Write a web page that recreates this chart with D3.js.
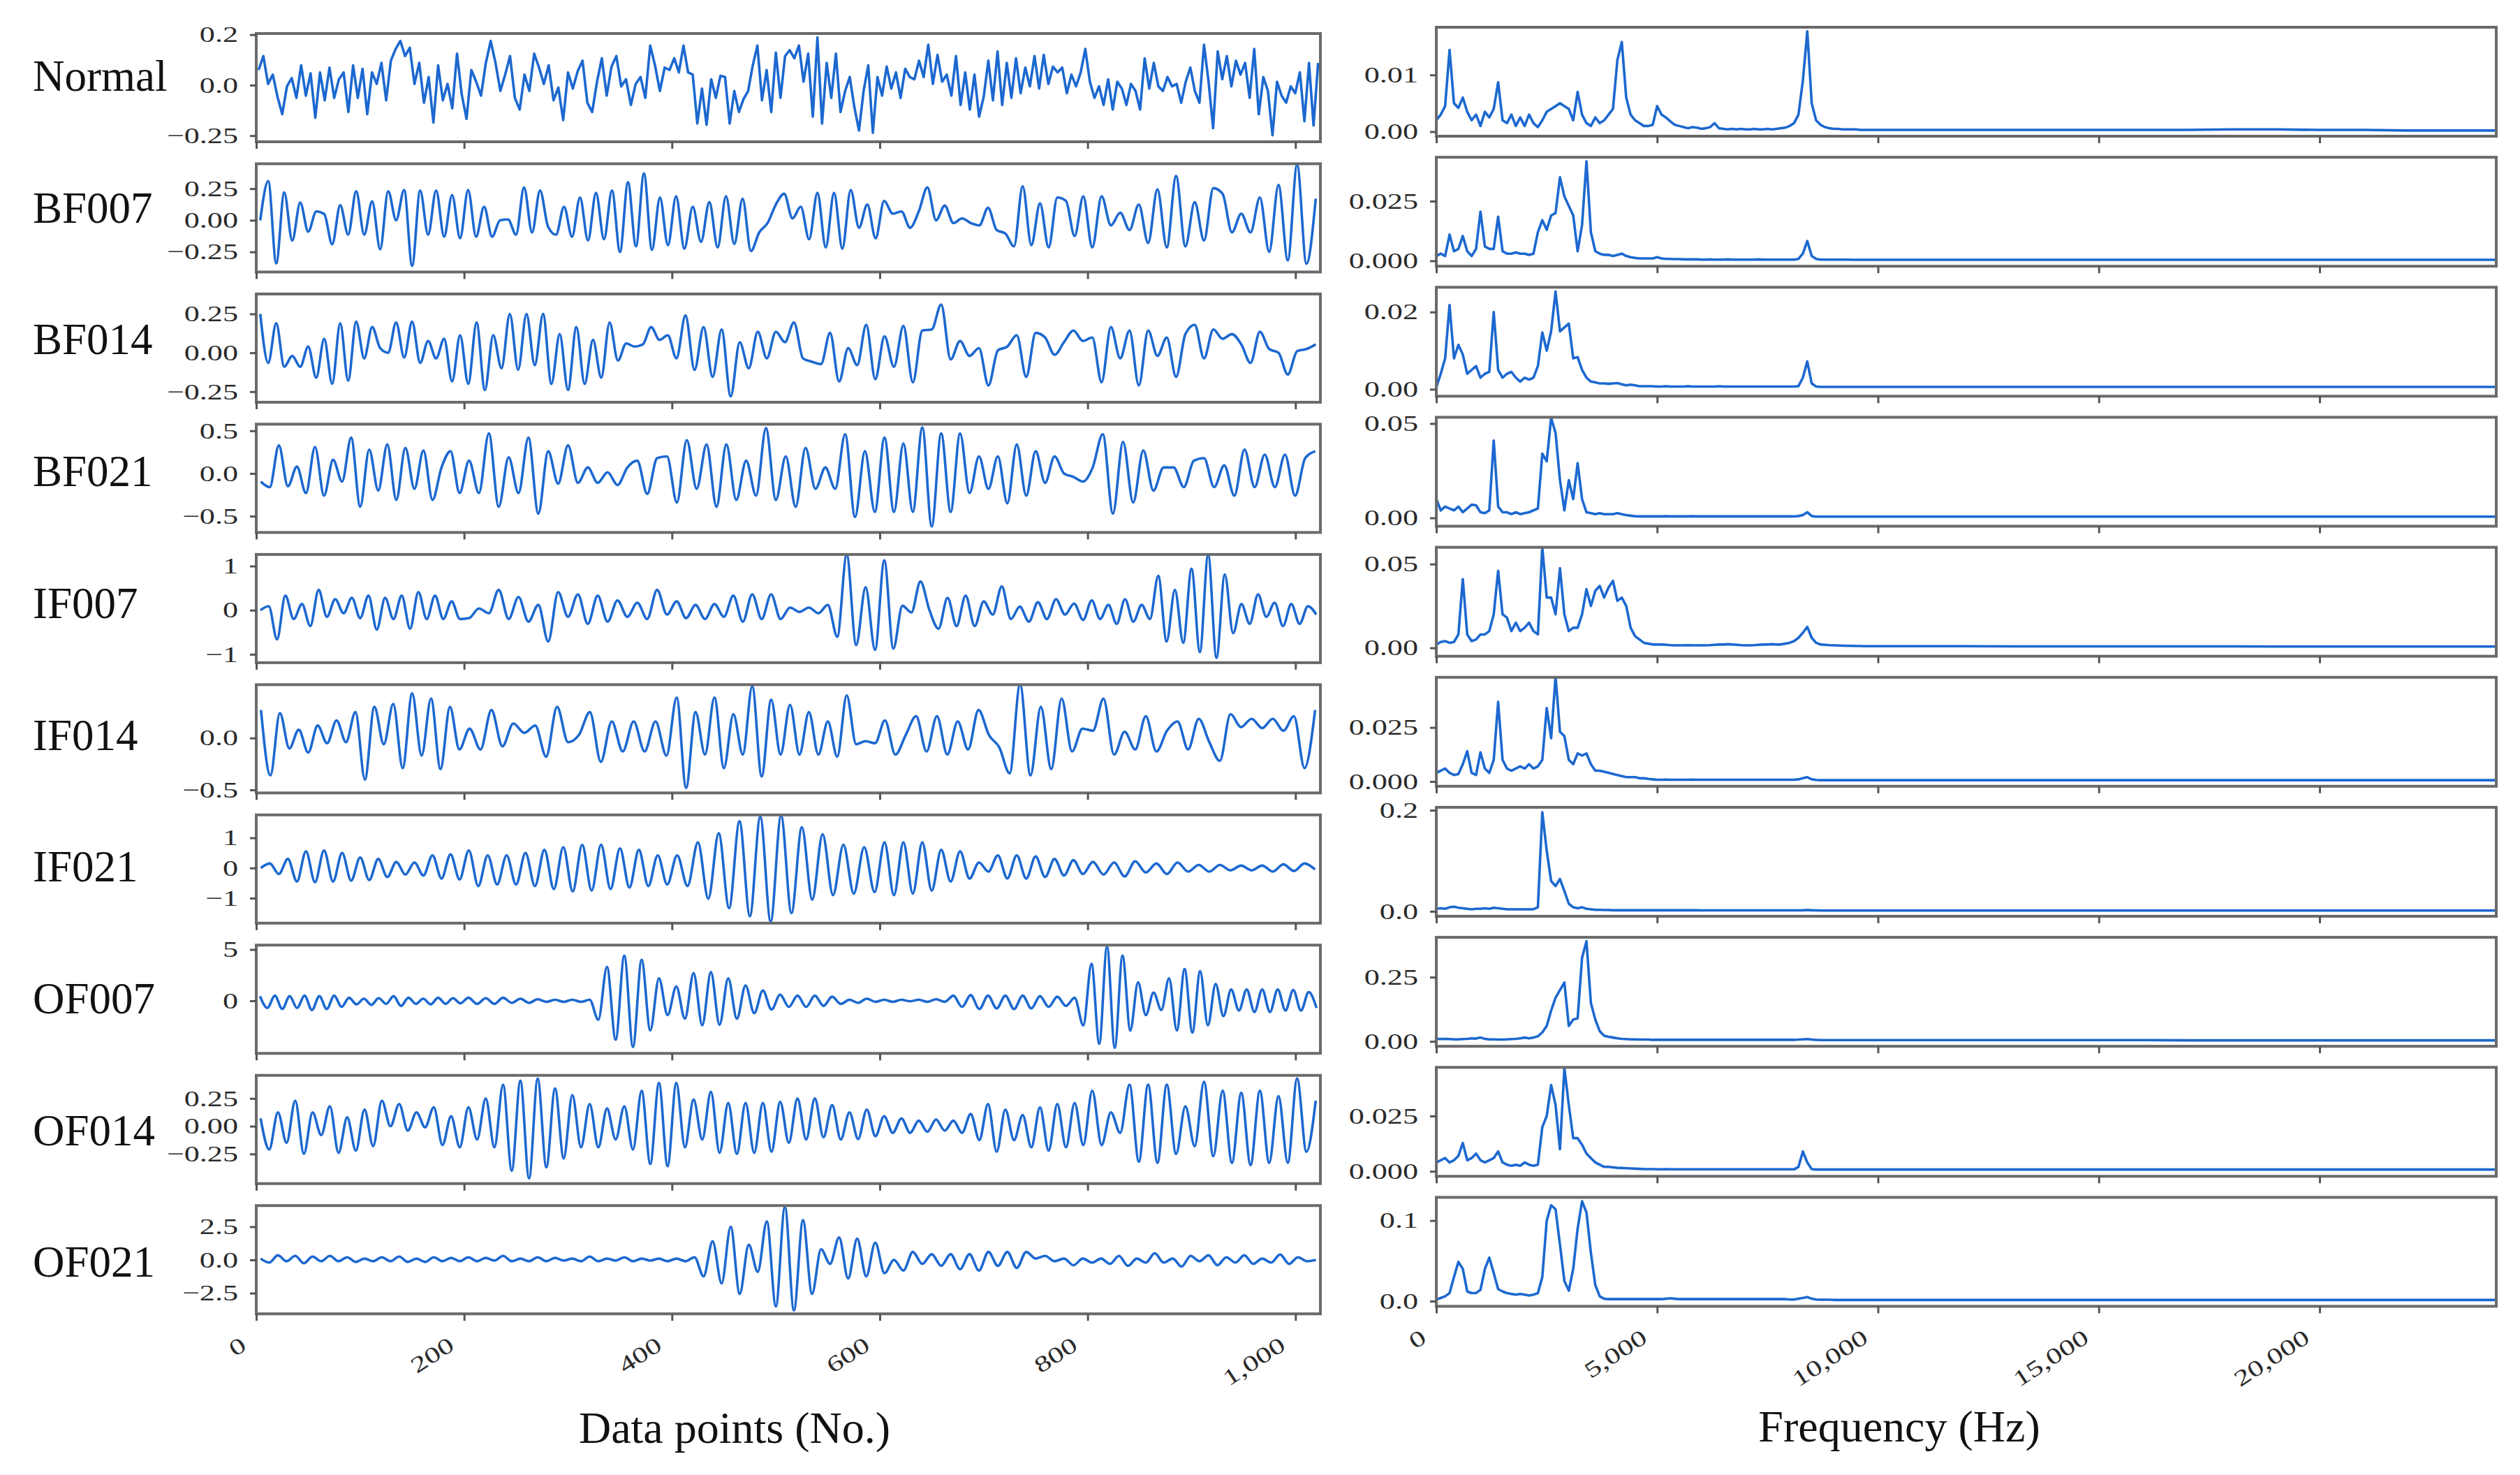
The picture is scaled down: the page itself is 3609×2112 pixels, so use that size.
<!DOCTYPE html>
<html><head><meta charset="utf-8">
<script src="https://cdn.jsdelivr.net/npm/d3@7"></script>
<style>html,body{margin:0;padding:0;background:#fff;}svg{display:block;}</style>
</head><body>
<svg id="chart" width="3609" height="2112"></svg>
<script>
// ---------------- DATA ----------------
const rowLabels = ["Normal","BF007","BF014","BF021","IF007","IF014","IF021","OF007","OF014","OF021"];

// time-domain signals: successive extrema, grouped by 200-sample segment
const segBounds = [0,200,400,600,800,1024];
const sigNormal = [
 [0.075,0.144,0.006,0.052,-0.058,-0.144,-0.006,0.035,-0.063,0.098,-0.052,0.058,-0.161,0.063,-0.075,0.087,-0.063,0.029,0.063,-0.133,0.098,-0.063,0.081,-0.144,0.063,0.006,0.11,-0.075,0.121,0.179,0.219,0.144,0.185,0.006,0.11,-0.087,0.04,-0.185,0.098,-0.075,0.006,-0.115,0.156,-0.046],
 [-0.167,0.075,0.017,-0.052,0.11,0.219,0.11,-0.029,0.052,0.144,-0.063,-0.121,0.052,-0.029,0.156,0.087,0.006,0.098,-0.075,-0.012,-0.173,0.063,-0.017,0.069,0.121,-0.087,-0.133,0.017,0.133,-0.052,0.092,0.144,-0.006,0.029,-0.098,0.006,0.04,-0.063,0.196,0.098,-0.029,0.087,0.075],
 [0.133,0.063,0.196,0.063,0.052,-0.19,-0.017,-0.196,0.029,-0.063,0.046,0.04,-0.19,-0.029,-0.133,-0.069,-0.029,0.098,0.196,-0.075,0.075,-0.133,0.161,-0.063,0.144,0.173,0.133,0.196,0.017,0.156,-0.156,0.236,-0.19,0.11,-0.063,0.156,-0.133,-0.029,0.04,-0.109,-0.225,-0.029,0.098,-0.236,0.04],
 [-0.052,0.092,-0.017,0.063,-0.063,0.081,0.04,0.029,0.121,0.04,0.2,0.006,0.15,0.017,0.052,-0.052,0.144,-0.098,0.063,-0.121,0.052,-0.156,-0.058,0.121,-0.075,0.167,-0.098,0.11,-0.063,0.133,-0.04,0.087,-0.006,0.144,-0.017,0.15,0.006,0.092,0.063,0.087,-0.04,0.052,-0.006,0.063,0.179],
 [0.017,-0.063,-0.006,-0.098,0.029,-0.121,0.017,-0.017,-0.098,0.006,-0.029,-0.121,0.133,-0.017,0.11,-0.006,-0.029,0.04,-0.006,0.006,-0.087,0.017,0.087,-0.029,-0.087,0.2,0.017,-0.213,0.167,0.029,0.144,-0.006,0.121,0.052,0.11,-0.063,0.179,-0.144,0.04,-0.029,-0.248,0.017,-0.052,-0.087,-0.006,-0.04,0.063,-0.179,0.11,-0.2,0.11]
];
const sigBF007 = [
 [0.0,0.31,-0.34,0.22,-0.16,0.14,-0.09,0.07,0.05,-0.19,0.12,-0.114,0.23,-0.114,0.15,-0.23,0.23,0.0,0.24,-0.36,0.236,-0.114,0.236,-0.13,0.2,-0.142],
 [0.24,-0.13,0.107,-0.13,0.0,0.006,-0.114,0.26,-0.096,0.236,-0.05,-0.114,0.107,-0.13,0.18,-0.16,0.217,-0.15,0.236,-0.25,0.3,-0.206,0.37,-0.234,0.18,-0.197],
 [0.19,-0.225,0.107,-0.17,0.144,-0.215,0.19,-0.188,0.171,-0.243,-0.096,-0.022,0.125,0.21,0.015,0.107,-0.15,0.217,-0.215,0.217,-0.225,0.24,-0.059,0.125,-0.142],
 [0.153,0.052,0.07,-0.059,0.07,0.26,0.0,0.116,-0.022,0.015,-0.022,-0.04,0.098,-0.077,-0.105,-0.206,0.27,-0.197,0.134,-0.215,0.18,0.153,-0.124,0.19],
 [-0.215,0.19,-0.04,0.06,-0.077,0.125,-0.18,0.245,-0.215,0.35,-0.206,0.144,-0.16,0.254,0.208,-0.096,0.052,-0.096,0.18,-0.25,0.28,-0.317,0.44,-0.344,0.171]
];
const sigBF014 = [
 [0.25,-0.065,0.19,-0.09,-0.02,-0.09,0.04,-0.16,0.09,-0.2,0.19,-0.18,0.2,-0.036,0.165,0.03,0.0,0.195,-0.03,0.2,-0.065,0.076,-0.036,0.09,-0.185,0.113],
 [-0.2,0.195,-0.24,0.113,-0.1,0.25,-0.11,0.25,-0.08,0.25,-0.2,0.12,-0.24,0.165,-0.2,0.083,-0.16,0.195,-0.05,0.06,0.04,0.054,0.165,0.083,0.113],
 [-0.036,0.24,-0.11,0.165,-0.155,0.15,-0.28,0.068,-0.1,0.135,-0.036,0.135,0.068,0.195,-0.036,-0.058,-0.073,0.128,-0.185,0.03,-0.08,0.18,-0.17],
 [0.106,-0.09,0.173,-0.19,0.143,0.15,0.31,-0.043,0.076,-0.02,0.03,-0.21,0.016,0.04,0.113,-0.155,0.128,0.098,-0.013,0.068,0.143,0.076],
 [0.098,-0.19,0.165,-0.036,0.143,-0.21,0.143,-0.02,0.098,-0.155,0.12,0.18,-0.036,0.15,0.09,0.12,0.054,-0.065,0.135,0.024,0.0,-0.14,0.01,0.024,0.054]
];
const sigBF021 = [
 [-0.095,-0.16,0.33,-0.15,0.08,-0.23,0.31,-0.26,0.16,-0.095,0.42,-0.39,0.28,-0.2,0.34,-0.31,0.3,-0.18,0.27,-0.31,0.07,0.26,-0.23],
 [0.15,-0.23,0.47,-0.39,0.19,-0.23,0.42,-0.47,0.26,-0.12,0.33,-0.11,0.07,-0.11,0.014,-0.135,0.07,0.15,-0.24,0.18,0.2],
 [-0.34,0.39,-0.18,0.34,-0.39,0.34,-0.31,0.15,-0.26,0.53,-0.31,0.2,-0.39,0.3,-0.18,0.07,-0.18,0.46,-0.51,0.26,-0.45],
 [0.42,-0.45,0.35,-0.45,0.54,-0.62,0.47,-0.45,0.47,-0.23,0.2,-0.18,0.2,-0.35,0.34,-0.26,0.26,-0.11,0.2,0.0,-0.04,-0.095],
 [0.07,0.46,-0.47,0.37,-0.34,0.27,-0.2,0.07,0.07,-0.16,0.15,0.18,-0.16,0.095,-0.26,0.28,-0.16,0.22,-0.16,0.22,-0.26,0.18,0.26]
];
const sigIF007 = [
 [0.0,0.09,-0.66,0.33,-0.2,0.14,-0.36,0.46,-0.15,0.25,-0.07,0.28,-0.18,0.33,-0.44,0.28,-0.2,0.33,-0.42,0.41,-0.2,0.33,-0.2,0.2,-0.2],
 [-0.18,0.04,-0.07,0.46,-0.2,0.3,-0.26,0.12,-0.71,0.41,-0.15,0.36,-0.31,0.33,-0.26,0.22,-0.15,0.17,-0.2,0.46,-0.1],
 [0.2,-0.18,0.12,-0.2,0.14,-0.15,0.33,-0.26,0.36,-0.2,0.36,-0.2,0.06,-0.04,0.06,-0.07,0.12,-0.6,1.26,-0.79,0.52,-0.9],
 [1.13,-0.87,0.1,-0.05,0.65,0.0,-0.42,0.28,-0.36,0.33,-0.36,0.2,-0.1,0.54,-0.2,0.08,-0.26,0.18,-0.2,0.25,-0.1,0.15,-0.22],
 [0.22,-0.2,0.12,-0.31,0.25,-0.26,0.12,-0.2,0.78,-0.71,0.46,-0.74,0.94,-0.95,1.26,-1.08,0.81,-0.52,0.14,-0.31,0.36,-0.15,0.17,-0.36,0.14,-0.31,0.09,-0.1]
];
const sigIF014 = [
 [0.27,-0.36,0.24,-0.1,0.08,-0.14,0.12,-0.05,0.17,-0.04,0.25,-0.4,0.3,-0.06,0.33,-0.29,0.43,-0.17,0.38,-0.3,0.3,-0.11],
 [0.09,-0.11,0.27,-0.08,0.14,0.05,0.12,-0.18,0.3,-0.04,0.03,0.25,-0.23,0.16,-0.13,0.16,-0.13,0.16,-0.17],
 [0.39,-0.48,0.25,-0.16,0.39,-0.29,0.23,-0.16,0.5,-0.37,0.37,-0.16,0.32,-0.16,0.25,-0.16,0.16,-0.18,0.41,-0.06,-0.03,-0.05],
 [0.17,-0.16,0.03,0.21,-0.13,0.21,-0.16,0.16,-0.11,0.27,0.03,-0.09,-0.34,0.52,-0.36,0.3,-0.3,0.38,-0.13,0.09],
 [0.07,0.38,-0.16,0.06,-0.11,0.21,-0.13,0.07,0.16,-0.11,0.185,-0.04,-0.22,0.23,0.105,0.185,0.095,0.185,0.07,0.21,-0.29,0.27]
];
const sigIF021 = [
 [0.0,0.15,-0.2,0.3,-0.45,0.55,-0.47,0.58,-0.45,0.5,-0.42,0.35,-0.4,0.3,-0.3,0.2,-0.22,0.18,-0.25,0.42,-0.35,0.45,-0.38],
 [0.58,-0.6,0.42,-0.55,0.42,-0.55,0.5,-0.6,0.6,-0.7,0.69,-0.78,0.77,-0.75,0.77,-0.7,0.65,-0.65,0.6,-0.6,0.42,-0.55],
 [0.42,-0.6,0.85,-1.02,1.15,-1.33,1.55,-1.6,1.7,-1.78,1.74,-1.5,1.35,-1.05,1.12,-0.9,0.77,-0.85,0.69,-0.8],
 [0.85,-0.9,0.85,-0.85,0.85,-0.75,0.6,-0.45,0.55,-0.35,0.18,-0.12,0.42,-0.35,0.42,-0.35,0.38,-0.3,0.3,-0.25,0.26,-0.2],
 [0.2,-0.22,0.18,-0.28,0.22,-0.15,0.15,-0.2,0.18,-0.12,0.1,-0.12,0.1,-0.08,0.08,-0.08,0.08,-0.12,0.12,-0.1,0.15,-0.05]
];
const sigOF007 = [
 [0.45,-0.7,0.5,-0.8,0.45,-0.7,0.5,-0.9,0.45,-0.8,0.5,-0.6,0.3,-0.35,0.2,-0.4,0.25,-0.3,0.45,-0.5,0.3,-0.3,0.2,-0.35,0.3,-0.3,0.25,-0.25],
 [0.3,-0.3,0.25,-0.3,0.3,-0.2,0.2,-0.2,0.15,-0.1,0.1,-0.1,0.1,-0.1,0.1,-1.85,3.3,-3.8,4.4,-4.5,4.0,-2.9,2.2,-1.4],
 [1.4,-1.75,2.7,-2.4,2.8,-2.35,2.2,-1.75,1.5,-1.2,1.0,-0.85,0.6,-0.6,0.5,-0.6,0.5,-0.5,0.4,-0.3,0.1,-0.2,0.2,-0.1],
 [0.1,-0.1,0.1,-0.05,0.1,-0.1,0.15,-0.1,0.5,-0.6,0.55,-0.8,0.5,-0.75,0.5,-0.8,0.5,-0.75,0.45,-0.6,0.4,-0.5,0.3,-2.4],
 [3.6,-4.2,5.3,-4.6,4.4,-2.9,1.8,-1.4,0.8,-0.9,2.2,-2.9,3.1,-3.1,2.9,-2.4,1.65,-1.5,1.1,-0.95,1.1,-1.1,1.1,-1.1,1.1,-0.95,1.05,-0.95,0.85,-0.7]
];
const sigOF014 = [
 [0.07,-0.21,0.125,-0.15,0.23,-0.25,0.125,-0.08,0.18,-0.24,0.08,-0.22,0.15,-0.18,0.23,0.0,0.2,-0.04,0.125,-0.01,0.17,-0.17,0.09,-0.19],
 [0.17,-0.12,0.25,-0.19,0.375,-0.4,0.41,-0.47,0.43,-0.37,0.34,-0.29,0.28,-0.19,0.2,-0.19,0.16,-0.12,0.18,-0.21,0.32,-0.34,0.39,-0.36],
 [0.39,-0.19,0.24,-0.12,0.31,-0.24,0.21,-0.25,0.21,-0.24,0.21,-0.23,0.22,-0.15,0.25,-0.12,0.25,-0.1,0.19,-0.12,0.125,-0.115,0.15,-0.09],
 [0.09,-0.06,0.07,-0.06,0.05,-0.05,0.06,-0.04,0.05,-0.06,0.11,-0.125,0.2,-0.23,0.15,-0.125,0.1,-0.19,0.17,-0.22,0.2,-0.19,0.21,-0.17],
 [0.32,-0.17,0.125,-0.06,0.375,-0.32,0.375,-0.33,0.375,-0.25,0.18,-0.18,0.4,-0.27,0.32,-0.33,0.3,-0.35,0.32,-0.33,0.27,-0.33,0.43,-0.23,0.23]
];
const sigOF021 = [
 [0.1,-0.2,0.35,-0.1,0.3,-0.25,0.25,-0.1,0.3,-0.1,0.2,-0.15,0.1,-0.1,0.2,-0.1,0.25,-0.15,0.1,-0.15,0.2,-0.1,0.15,-0.1],
 [0.2,-0.1,0.15,-0.05,0.3,-0.1,0.1,-0.1,0.2,-0.1,0.15,-0.05,0.1,-0.1,0.25,-0.1,0.1,-0.05,0.2,-0.1,0.1,-0.05,0.1,-0.1],
 [0.1,-0.1,0.2,-1.24,1.4,-1.77,2.5,-2.56,1.14,-0.9,2.9,-3.5,4.0,-3.8,3.0,-2.56,0.8,-0.3,1.7,-1.4,1.6,-1.24,1.3],
 [-1.0,0.0,-0.8,0.6,-0.3,0.43,-0.45,0.43,-0.7,0.43,-0.8,0.6,-0.45,0.6,-0.6,0.6,0.1,0.3,-0.1,0.1,-0.4,0.1],
 [-0.2,0.1,-0.3,0.3,-0.45,0.1,-0.2,0.5,-0.2,0.1,-0.5,0.3,-0.1,0.35,-0.4,0.2,-0.2,0.35,-0.3,0.1,-0.2,0.4,-0.3,0.2,-0.1,0.0]
];
const timeSignals = [sigNormal,sigBF007,sigBF014,sigBF021,sigIF007,sigIF014,sigIF021,sigOF007,sigOF014,sigOF021];
const timeDomains = [[-0.2804,0.2555],[-0.409,0.447],[-0.318,0.378],[-0.691,0.577],[-1.19,1.264],[-0.529,0.514],[-1.83,1.76],[-5.13,5.43],[-0.517,0.458],[-4.06,4.09]];
const timeTicks = [[0.25,0,-0.25],[0.25,0,-0.25],[0.25,0,-0.25],[0.5,0,-0.5],[1,0,-1],[0,-0.5],[1,0,-1],[5,0],[0.25,0,-0.25],[2.5,0,-2.5]];
const timeTickLabels = [["0.2","0.0","\u22120.25"],["0.25","0.00","\u22120.25"],["0.25","0.00","\u22120.25"],["0.5","0.0","\u22120.5"],["1","0","\u22121"],["0.0","\u22120.5"],["1","0","\u22121"],["5","0"],["0.25","0.00","\u22120.25"],["2.5","0.0","\u22122.5"]];
const timeXTicks = [0,200,400,600,800,1000];
const timeXTickLabels = ["0","200","400","600","800","1,000"];

// spectra: amplitude every 100 Hz from 0 to 10,000 Hz, then every 1,000 Hz to 24,000 Hz
const specHz = d3.range(0,10001,100).concat([11000,12000,13000,14000,15000,16000,17000,18000,19000,20000,21000,22000,23000,24000]);
const specNormal = [
0.002,0.003,0.0045,0.0144,0.005,0.0042,0.006,0.0035,0.002,0.003,
0.001,0.0035,0.0025,0.004,0.0087,0.002,0.0015,0.003,0.001,0.0025,
0.001,0.003,0.0015,0.0008,0.002,0.0035,0.004,0.0045,0.005,0.0045,
0.004,0.002,0.007,0.003,0.0015,0.001,0.0025,0.0015,0.002,0.003,
0.004,0.0126,0.0158,0.006,0.003,0.002,0.0015,0.001,0.001,0.0012,
0.0045,0.003,0.0025,0.0018,0.0012,0.001,0.0008,0.0006,0.0008,0.0007,
0.0005,0.0006,0.0008,0.0015,0.0006,0.0005,0.0004,0.0005,0.0004,0.0005,
0.0004,0.0004,0.0005,0.0004,0.0004,0.0005,0.0004,0.0005,0.0006,0.0007,
0.001,0.0015,0.003,0.009,0.0177,0.005,0.002,0.0012,0.0008,0.0006,
0.0005,0.0005,0.0004,0.0004,0.0004,0.0004,0.0003,0.0003,0.0003,0.0003,
0.0003,
0.0003,0.0003,0.0003,0.0003,0.0003,0.0003,0.0003,0.0004,0.0004,0.0003,0.0003,0.0002,0.0002,0.0002];
const specBF007 = [
0.002,0.003,0.002,0.011,0.004,0.005,0.0104,0.004,0.002,0.005,
0.0206,0.006,0.005,0.005,0.0185,0.004,0.003,0.003,0.0035,0.003,
0.003,0.0025,0.003,0.012,0.017,0.013,0.019,0.02,0.035,0.027,
0.023,0.019,0.004,0.015,0.0417,0.012,0.004,0.003,0.0025,0.0025,
0.002,0.0025,0.003,0.002,0.0015,0.0012,0.001,0.001,0.001,0.001,
0.0015,0.001,0.0008,0.0008,0.0007,0.0007,0.0006,0.0006,0.0006,0.0006,
0.0005,0.0005,0.0006,0.0005,0.0005,0.0005,0.0006,0.0005,0.0005,0.0005,
0.0005,0.0005,0.0005,0.0006,0.0005,0.0005,0.0005,0.0005,0.0005,0.0005,
0.0005,0.0005,0.0008,0.003,0.0083,0.002,0.0008,0.0005,0.0005,0.0005,
0.0005,0.0005,0.0005,0.0005,0.0004,0.0004,0.0004,0.0004,0.0004,0.0004,
0.0004,
0.0004,0.0004,0.0004,0.0004,0.0004,0.0004,0.0004,0.0004,0.0004,0.0004,0.0004,0.0004,0.0004,0.0004];
const specBF014 = [
0.0005,0.004,0.008,0.0218,0.008,0.0115,0.009,0.004,0.005,0.006,
0.003,0.004,0.0045,0.02,0.005,0.003,0.004,0.0045,0.003,0.002,
0.003,0.0025,0.003,0.006,0.0147,0.01,0.015,0.0253,0.015,0.016,
0.017,0.008,0.0083,0.005,0.003,0.002,0.0018,0.0015,0.0015,0.0014,
0.0015,0.0016,0.0013,0.001,0.0012,0.001,0.0008,0.0008,0.0008,0.0008,
0.0007,0.0007,0.0008,0.0007,0.0007,0.0007,0.0007,0.0008,0.0007,0.0007,
0.0007,0.0007,0.0007,0.0007,0.0008,0.0007,0.0007,0.0007,0.0007,0.0007,
0.0007,0.0007,0.0007,0.0007,0.0007,0.0007,0.0007,0.0007,0.0007,0.0007,
0.0007,0.0007,0.0008,0.003,0.0072,0.0015,0.0007,0.0006,0.0006,0.0006,
0.0006,0.0006,0.0006,0.0006,0.0006,0.0006,0.0006,0.0006,0.0006,0.0006,
0.0006,
0.0006,0.0006,0.0006,0.0006,0.0006,0.0006,0.0006,0.0006,0.0006,0.0006,0.0006,0.0006,0.0006,0.0006];
const specBF021 = [
0.01,0.004,0.006,0.005,0.004,0.006,0.003,0.005,0.007,0.0067,
0.003,0.0025,0.004,0.041,0.006,0.003,0.003,0.002,0.003,0.002,
0.0025,0.003,0.004,0.005,0.034,0.03,0.053,0.045,0.02,0.004,
0.02,0.01,0.029,0.01,0.003,0.0025,0.002,0.0025,0.002,0.002,
0.002,0.0025,0.002,0.0015,0.0012,0.0009,0.0008,0.0008,0.0008,0.0008,
0.0008,0.0008,0.0009,0.0008,0.0008,0.0008,0.0008,0.0008,0.0009,0.0008,
0.0008,0.0008,0.0008,0.0008,0.0008,0.0008,0.0008,0.0008,0.0008,0.0008,
0.0008,0.0008,0.0008,0.0008,0.0008,0.0008,0.0008,0.0008,0.0008,0.0008,
0.0008,0.0008,0.001,0.0015,0.003,0.001,0.0007,0.0007,0.0007,0.0007,
0.0007,0.0007,0.0007,0.0007,0.0007,0.0007,0.0007,0.0007,0.0007,0.0007,
0.0007,
0.0007,0.0007,0.0007,0.0007,0.0007,0.0007,0.0007,0.0007,0.0007,0.0007,0.0007,0.0007,0.0007,0.0007];
const specIF007 = [
0.002,0.0035,0.004,0.003,0.0035,0.008,0.041,0.008,0.004,0.005,
0.008,0.008,0.01,0.02,0.046,0.02,0.018,0.01,0.015,0.01,
0.012,0.015,0.01,0.008,0.06,0.03,0.03,0.02,0.0475,0.02,
0.01,0.012,0.012,0.02,0.035,0.025,0.034,0.037,0.03,0.036,
0.04,0.028,0.03,0.025,0.012,0.007,0.005,0.003,0.0025,0.002,
0.002,0.002,0.0018,0.0016,0.0015,0.0015,0.0015,0.0016,0.0015,0.0015,
0.0015,0.0015,0.0016,0.0018,0.002,0.002,0.0022,0.002,0.0018,0.0016,
0.0015,0.0015,0.0016,0.0018,0.002,0.002,0.0022,0.002,0.002,0.0025,
0.003,0.004,0.006,0.009,0.0125,0.006,0.003,0.002,0.0018,0.0016,
0.0015,0.0014,0.0013,0.0012,0.0012,0.0011,0.0011,0.001,0.001,0.001,
0.001,
0.001,0.001,0.0009,0.0009,0.0009,0.0009,0.0009,0.0009,0.0008,0.0008,0.0008,0.0008,0.0008,0.0008];
const specIF014 = [
0.004,0.005,0.006,0.004,0.003,0.0035,0.008,0.014,0.004,0.003,
0.0135,0.006,0.004,0.01,0.0368,0.01,0.006,0.005,0.006,0.007,
0.006,0.008,0.006,0.007,0.01,0.034,0.02,0.0486,0.023,0.021,
0.01,0.008,0.013,0.012,0.013,0.008,0.005,0.005,0.0045,0.004,
0.0035,0.003,0.0025,0.002,0.002,0.002,0.0015,0.0015,0.0012,0.001,
0.0008,0.0008,0.0009,0.0008,0.0008,0.0008,0.0008,0.0008,0.0009,0.0008,
0.0008,0.0008,0.0008,0.0008,0.0008,0.0008,0.0008,0.0008,0.0008,0.0008,
0.0008,0.0008,0.0008,0.0008,0.0008,0.0008,0.0008,0.0008,0.0008,0.0008,
0.0008,0.0008,0.001,0.0015,0.002,0.001,0.0007,0.0006,0.0006,0.0006,
0.0006,0.0006,0.0006,0.0006,0.0006,0.0006,0.0006,0.0006,0.0006,0.0006,
0.0006,
0.0006,0.0006,0.0006,0.0006,0.0006,0.0006,0.0006,0.0006,0.0006,0.0006,0.0006,0.0006,0.0006,0.0006];
const specIF021 = [
0.005,0.006,0.005,0.008,0.009,0.007,0.006,0.005,0.004,0.005,
0.005,0.006,0.005,0.007,0.006,0.005,0.004,0.004,0.004,0.004,
0.004,0.004,0.004,0.008,0.196,0.12,0.06,0.05,0.064,0.04,
0.015,0.008,0.006,0.008,0.005,0.004,0.003,0.003,0.0025,0.0025,
0.002,0.002,0.002,0.002,0.002,0.002,0.002,0.002,0.002,0.002,
0.002,0.002,0.002,0.002,0.002,0.002,0.002,0.002,0.002,0.002,
0.0018,0.0018,0.0018,0.0018,0.0018,0.0018,0.0018,0.0018,0.0018,0.0018,
0.0018,0.0018,0.0018,0.0018,0.0018,0.0018,0.0018,0.0018,0.0018,0.0018,
0.0018,0.0018,0.0018,0.002,0.0025,0.002,0.0018,0.0016,0.0016,0.0016,
0.0015,0.0015,0.0015,0.0015,0.0015,0.0015,0.0015,0.0015,0.0015,0.0015,
0.0015,
0.0015,0.0015,0.0015,0.0015,0.0015,0.0015,0.0015,0.0015,0.0015,0.0015,0.0015,0.0015,0.0015,0.0015];
const specOF007 = [
0.01,0.009,0.01,0.009,0.008,0.008,0.009,0.01,0.012,0.011,
0.015,0.01,0.008,0.008,0.007,0.007,0.008,0.009,0.01,0.012,
0.015,0.012,0.015,0.02,0.035,0.06,0.12,0.17,0.2,0.229,
0.06,0.085,0.09,0.325,0.39,0.15,0.085,0.04,0.022,0.018,
0.015,0.012,0.01,0.009,0.008,0.008,0.007,0.007,0.007,0.006,
0.006,0.006,0.006,0.006,0.006,0.006,0.006,0.006,0.006,0.006,
0.006,0.006,0.006,0.006,0.006,0.006,0.006,0.006,0.006,0.006,
0.006,0.006,0.006,0.006,0.006,0.006,0.006,0.006,0.006,0.006,
0.006,0.006,0.007,0.008,0.009,0.007,0.006,0.005,0.005,0.005,
0.005,0.005,0.005,0.005,0.005,0.005,0.005,0.005,0.005,0.005,
0.005,
0.005,0.005,0.005,0.005,0.005,0.005,0.004,0.004,0.004,0.004,0.004,0.004,0.004,0.004];
const specOF014 = [
0.004,0.005,0.006,0.004,0.005,0.007,0.0128,0.005,0.006,0.008,
0.005,0.004,0.005,0.006,0.009,0.004,0.003,0.0025,0.003,0.0025,
0.004,0.003,0.0025,0.003,0.02,0.025,0.039,0.03,0.01,0.0466,
0.03,0.015,0.015,0.012,0.008,0.006,0.004,0.003,0.002,0.002,
0.0018,0.0016,0.0015,0.0014,0.0013,0.0012,0.0011,0.001,0.001,0.001,
0.0009,0.0009,0.001,0.0009,0.0009,0.0009,0.0009,0.0009,0.0009,0.0009,
0.0009,0.0009,0.0009,0.0009,0.0009,0.0009,0.0009,0.0009,0.0009,0.0009,
0.0009,0.0009,0.0009,0.0009,0.0009,0.0009,0.0009,0.0009,0.0009,0.0009,
0.0009,0.0009,0.002,0.009,0.004,0.001,0.0008,0.0008,0.0008,0.0008,
0.0008,0.0008,0.0008,0.0008,0.0008,0.0008,0.0008,0.0008,0.0008,0.0008,
0.0008,
0.0008,0.0008,0.0008,0.0008,0.0008,0.0008,0.0008,0.0008,0.0008,0.0008,0.0008,0.0008,0.0008,0.0008];
const specOF021 = [
0.002,0.004,0.006,0.01,0.03,0.0487,0.04,0.012,0.01,0.01,
0.014,0.04,0.054,0.035,0.015,0.012,0.01,0.009,0.008,0.009,
0.008,0.007,0.008,0.01,0.03,0.1,0.119,0.114,0.07,0.025,
0.013,0.04,0.09,0.124,0.11,0.06,0.02,0.006,0.003,0.0025,
0.0025,0.0025,0.0025,0.0025,0.0025,0.0025,0.0025,0.0025,0.0025,0.0025,
0.0025,0.0025,0.003,0.0035,0.003,0.0025,0.0025,0.0025,0.0025,0.0025,
0.0025,0.0025,0.0025,0.0025,0.0025,0.0025,0.0025,0.0025,0.0025,0.0025,
0.0025,0.0025,0.0025,0.0025,0.0025,0.0025,0.0025,0.0025,0.0025,0.0025,
0.002,0.002,0.003,0.004,0.005,0.003,0.002,0.0018,0.0018,0.0018,
0.0015,0.0015,0.0015,0.0015,0.0015,0.0015,0.0015,0.0015,0.0015,0.0015,
0.0015,
0.0015,0.0015,0.0015,0.0015,0.0015,0.0015,0.0015,0.0015,0.0015,0.0015,0.0015,0.0015,0.0015,0.0015];
const spectra = [specNormal,specBF007,specBF014,specBF021,specIF007,specIF014,specIF021,specOF007,specOF014,specOF021];
const specDomains = [[-0.0008,0.0184],[-0.00226,0.0434],[-0.0018,0.0264],[-0.0044,0.0533],[-0.005,0.06],[-0.0022,0.0482],[-0.0098,0.2058],[-0.019,0.405],[-0.00225,0.047],[-0.0064,0.1288]];
const specTicks = [[0,0.01],[0,0.025],[0,0.02],[0,0.05],[0,0.05],[0,0.025],[0,0.2],[0,0.25],[0,0.025],[0,0.1]];
const specTickLabels = [["0.00","0.01"],["0.000","0.025"],["0.00","0.02"],["0.00","0.05"],["0.00","0.05"],["0.000","0.025"],["0.0","0.2"],["0.00","0.25"],["0.000","0.025"],["0.0","0.1"]];
const freqXTicks = [0,5000,10000,15000,20000];
const freqXTickLabels = ["0","5,000","10,000","15,000","20,000"];
const axisTitles = ["Data points (No.)","Frequency (Hz)"];

// ---------------- DRAW ----------------
const svg = d3.select("#chart");
const FONT = "'Liberation Serif','Times New Roman',Times,serif";
const LINE = "#1c68d0";
const FRAME = "#6a6a6a";
const TICKC = "#555";
const TICKFS = 32, STRETCH = 1.38;
const Lp = {x0:367, x1:1891, top0:48, pitch:186.47, h:155};
const Rp = {x0:2057, x1:3575, top0:39, pitch:186.16, h:156};

svg.append("rect").attr("width",3609).attr("height",2112).attr("fill","#fff");

function widen(sel){
  sel.each(function(){
    const w = this.getComputedTextLength();
    d3.select(this).attr("textLength", w*STRETCH).attr("lengthAdjust","spacingAndGlyphs");
  });
}
function styleAxis(g){
  g.select(".domain").remove();
  g.selectAll(".tick line").attr("stroke",TICKC).attr("stroke-width",3);
  const t = g.selectAll(".tick text").attr("fill","#2a2a2a").style("font-family",FONT).style("font-size",TICKFS+"px");
  widen(t);
}

rowLabels.forEach((name,i)=>{
  // ---- left panel (time domain)
  const lt = Lp.top0 + Lp.pitch*i;
  const xl = d3.scaleLinear().domain([0,1024]).range([Lp.x0,Lp.x1]);
  const yl = d3.scaleLinear().domain(timeDomains[i]).range([lt+Lp.h, lt]);
  const gl = svg.append("g");
  gl.append("clipPath").attr("id","cl"+i).append("rect")
    .attr("x",Lp.x0).attr("y",lt).attr("width",Lp.x1-Lp.x0).attr("height",Lp.h);
  const pts = [];
  timeSignals[i].forEach((seg,s)=>{
    const a=segBounds[s], b=segBounds[s+1];
    seg.forEach((v,k)=>pts.push([a+(k+0.5)*(b-a)/seg.length, v]));
  });
  gl.append("path").attr("clip-path","url(#cl"+i+")")
    .attr("d", d3.line().x(d=>xl(d[0])).y(d=>yl(d[1])).curve(i===0?d3.curveLinear:d3.curveMonotoneX)(pts))
    .attr("fill","none").attr("stroke",LINE).attr("stroke-width",3.6).attr("stroke-linejoin","round");
  gl.append("rect").attr("x",Lp.x0).attr("y",lt).attr("width",Lp.x1-Lp.x0).attr("height",Lp.h)
    .attr("fill","none").attr("stroke",FRAME).attr("stroke-width",4);
  const yaxL = gl.append("g").attr("transform",`translate(${Lp.x0},0)`)
    .call(d3.axisLeft(yl).tickValues(timeTicks[i]).tickFormat((d,j)=>timeTickLabels[i][j]).tickSize(9).tickPadding(17));
  styleAxis(yaxL);
  const xaxL = gl.append("g").attr("transform",`translate(0,${lt+Lp.h})`)
    .call(d3.axisBottom(xl).tickValues(timeXTicks).tickFormat("").tickSize(10));
  styleAxis(xaxL);
  if(i===rowLabels.length-1){
    const labs = gl.selectAll("text.xl").data(timeXTicks).enter().append("text").attr("class","xl")
      .attr("transform",t=>`translate(${xl(t)-12},${lt+Lp.h+50}) rotate(-33)`)
      .attr("text-anchor","end").style("font-family",FONT).style("font-size",TICKFS+"px").attr("fill","#2a2a2a")
      .text((t,j)=>timeXTickLabels[j]);
    widen(labs);
  }
  // row label
  svg.append("text").attr("x",47).attr("y",130+188.7*i)
    .style("font-family",FONT).style("font-size","63px").attr("fill","#111").text(name);

  // ---- right panel (spectrum)
  const rt = Rp.top0 + Rp.pitch*i;
  const xr = d3.scaleLinear().domain([0,24000]).range([Rp.x0,Rp.x1]);
  const yr = d3.scaleLinear().domain(specDomains[i]).range([rt+Rp.h, rt]);
  const gr = svg.append("g");
  gr.append("clipPath").attr("id","cr"+i).append("rect")
    .attr("x",Rp.x0).attr("y",rt).attr("width",Rp.x1-Rp.x0).attr("height",Rp.h);
  gr.append("path").attr("clip-path","url(#cr"+i+")")
    .attr("d", d3.line().x((d,k)=>xr(specHz[k])).y(d=>yr(d))(spectra[i]))
    .attr("fill","none").attr("stroke",LINE).attr("stroke-width",3.6).attr("stroke-linejoin","round");
  gr.append("rect").attr("x",Rp.x0).attr("y",rt).attr("width",Rp.x1-Rp.x0).attr("height",Rp.h)
    .attr("fill","none").attr("stroke",FRAME).attr("stroke-width",4);
  const yaxR = gr.append("g").attr("transform",`translate(${Rp.x0},0)`)
    .call(d3.axisLeft(yr).tickValues(specTicks[i]).tickFormat((d,j)=>specTickLabels[i][j]).tickSize(9).tickPadding(17));
  styleAxis(yaxR);
  const xaxR = gr.append("g").attr("transform",`translate(0,${rt+Rp.h})`)
    .call(d3.axisBottom(xr).tickValues(freqXTicks).tickFormat("").tickSize(10));
  styleAxis(xaxR);
  if(i===rowLabels.length-1){
    const labs = gr.selectAll("text.xr").data(freqXTicks).enter().append("text").attr("class","xr")
      .attr("transform",t=>`translate(${xr(t)-12},${rt+Rp.h+50}) rotate(-33)`)
      .attr("text-anchor","end").style("font-family",FONT).style("font-size",TICKFS+"px").attr("fill","#2a2a2a")
      .text((t,j)=>freqXTickLabels[j]);
    widen(labs);
  }
});

svg.append("text").attr("x",1052).attr("y",2066).attr("text-anchor","middle")
  .style("font-family",FONT).style("font-size","64px").attr("fill","#111").text(axisTitles[0]);
svg.append("text").attr("x",2720).attr("y",2064).attr("text-anchor","middle")
  .style("font-family",FONT).style("font-size","64px").attr("fill","#111").text(axisTitles[1]);
</script>
</body></html>
